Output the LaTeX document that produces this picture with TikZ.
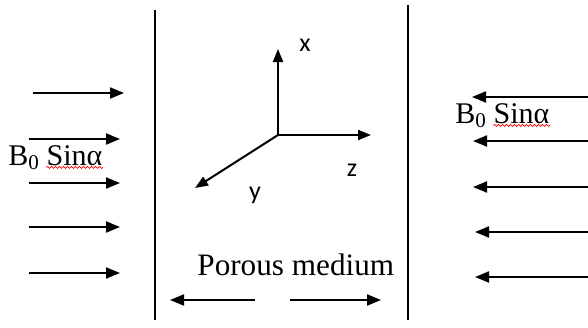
\documentclass[tikz,border=0pt]{standalone}
\usepackage{fontspec}
\setmainfont{Liberation Serif}
\newfontfamily\axisfont{Carlito}
\usetikzlibrary{arrows.meta,positioning,decorations.pathmorphing}
\tikzset{
  field/.style={-{Triangle[length=7pt,width=5.5pt]}, line width=1pt},
  wall/.style={line width=0.9pt},
  axis/.style={-{Triangle[length=6.5pt,width=5pt]}, line width=1pt},
  lbl/.style={inner sep=0pt, font=\fontsize{15}{18}\selectfont},
  axlbl/.style={inner sep=0pt, font=\axisfont\fontsize{13}{15}\selectfont},
  spell/.style={draw=red, line width=0.35pt, decorate,
    decoration={snake, amplitude=0.5pt, segment length=2pt}}
}

\begin{document}
\begin{tikzpicture}[x=0.5pt,y=-0.5pt]
  \useasboundingbox (0,0) rectangle (588,327);

  % plates
  \coordinate (w1t) at (155,10);  \coordinate (w1b) at (155,320);
  \coordinate (w2t) at (408,5);   \coordinate (w2b) at (408,320);
  \draw[wall] (w1t) -- (w1b);
  \draw[wall] (w2t) -- (w2b);

  % field arrows, left side
  \foreach \i/\ya/\xa in {1/93/33, 2/139/29, 3/183/29, 4/227/29, 5/273/29} {
    \coordinate (la\i) at (\xa,\ya);
    \coordinate (lb\i) at (\xa+91,\ya);
    \draw[field] (la\i) -- (lb\i);
  }

  % field arrows, right side
  \foreach \i/\ya/\xb in {1/97/472, 2/141/473, 3/187/473, 4/232/475, 5/277/475} {
    \coordinate (ra\i) at (588,\ya);
    \coordinate (rb\i) at (\xb,\ya);
    \draw[field] (ra\i) -- (rb\i);
  }

  % field labels
  \node[lbl, anchor=base west] (bl) at (8,165) {B\textsubscript{0}};
  \node[lbl, right=3pt of bl.base east, anchor=base west] (sl) {Sinα};
  \draw[spell] ([yshift=-1.2pt]sl.base west) -- ([yshift=-1.2pt]sl.base east);

  \node[lbl, anchor=base west] (br) at (455,123) {B\textsubscript{0}};
  \node[lbl, right=3pt of br.base east, anchor=base west] (sr) {Sinα};
  \draw[spell] ([yshift=-1.2pt]sr.base west) -- ([yshift=-1.2pt]sr.base east);

  % axes
  \coordinate (o) at (278,135);
  \coordinate (ox) at (278,49);
  \coordinate (oz) at (371,135);
  \coordinate (oy) at (195,188);
  \draw[axis] (o) -- (ox);
  \draw[axis] (o) -- (oz);
  \draw[axis] (o) -- (oy);
  \node[axlbl] (xl) at (305,45) {x};
  \node[axlbl] (zl) at (352,170) {z};
  \node[axlbl] (yl) at (255,195) {y};

  % porous medium
  \node[lbl, anchor=base west, font=\fontsize{15.6}{18}\selectfont] (pm) at (197,275) {Porous medium};
  \coordinate (pl1) at (255,300); \coordinate (pl2) at (170,300);
  \coordinate (pr1) at (290,300); \coordinate (pr2) at (381,300);
  \draw[field] (pl1) -- (pl2);
  \draw[field] (pr1) -- (pr2);
\end{tikzpicture}
\end{document}
